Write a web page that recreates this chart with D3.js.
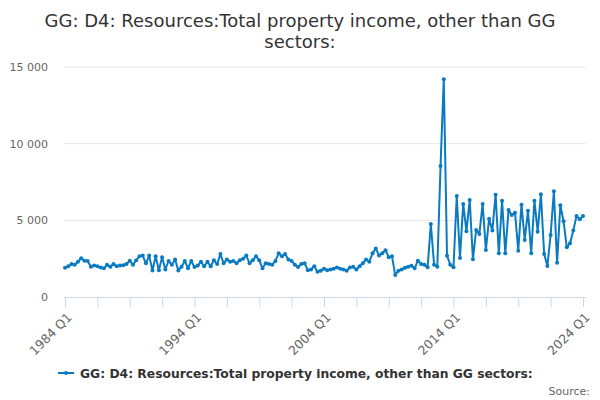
<!DOCTYPE html>
<html>
<head>
<meta charset="utf-8">
<script src="https://cdn.jsdelivr.net/npm/d3@7"></script>
<style>
  body { margin: 0; background: #fff; }
  svg { font-family: "DejaVu Sans", sans-serif; }
</style>
</head>
<body>
<div id="container"></div>
<script>
// quarterly values, 1984 Q1 .. 2024 Q1
const values = [
  1900, 2000, 2150, 2100, 2300, 2520, 2370, 2350, 1980, 2050,
  2000, 1930, 1870, 2100, 1980, 2150, 2000, 2050, 2070, 2150,
  2370, 2100, 2400, 2650, 2700, 2200, 2700, 1730, 2650, 1750,
  2600, 1800, 2350, 2100, 2450, 1730, 1980, 2350, 1870, 2350,
  1950, 2050, 2300, 2000, 2300, 2000, 2400, 2150, 2800, 2200,
  2450, 2300, 2350, 2200, 2400, 2500, 2700, 2200, 2400, 2650,
  2400, 1870, 2200, 2150, 2100, 2350, 2850, 2650, 2800, 2450,
  2350, 2100, 1950, 2150, 2200, 1750, 1800, 2000, 1650, 1720,
  1850, 1750, 1800, 1850, 1930, 1850, 1800, 1720, 1930, 1980,
  1800, 2000, 2200, 2450, 2300, 2850, 3170, 2700, 2850, 3050,
  2600, 2650, 1430, 1720, 1800, 1900, 1980, 2040, 1870, 2370,
  2150, 2110, 1940, 4760, 2110, 1980, 8550, 14200, 2690, 2110,
  1940, 6590, 2540, 6070, 4280, 6330, 2460, 4370, 4110, 6070,
  3070, 5110, 4330, 6670, 2850, 6280, 2850, 5680, 5350, 5500,
  3020, 6020, 3720, 5630, 2850, 6280, 4260, 6700, 2800, 2020,
  4040, 6890, 2240, 5980, 4940, 3240, 3500, 4330, 5280, 5070,
  5280
];
const startYear = 1984;
const quarters = values.map((v, i) => `${startYear + Math.floor(i / 4)} Q${i % 4 + 1}`);
const yTicks = [0, 5000, 10000, 15000];
const titleLines = ["GG: D4: Resources:Total property income, other than GG", "sectors:"];
const seriesName = "GG: D4: Resources:Total property income, other than GG sectors:";

const width = 600;
const height = 400;
const plotLeft = 65;
const plotRight = 583;
const plotTop = 67;
const plotBottom = 297;
const lineColor = "#0a7bc1";

const svg = d3.select("#container")
    .append("svg")
    .attr("width", width)
    .attr("height", height);

const xScale = d3.scaleLinear()
    .domain([0, values.length - 1])
    .range([plotLeft, plotRight]);

const yScale = d3.scaleLinear()
    .domain([0, 15000])
    .range([plotBottom, plotTop]);

//title
svg.append("text")
    .attr("x", width / 2)
    .attr("y", 27)
    .attr("text-anchor", "middle")
    .attr("fill", "#333")
    .style("font-size", "18px")
    .selectAll("tspan")
    .data(titleLines)
    .join("tspan")
    .attr("x", width / 2)
    .attr("dy", (d, i) => i === 0 ? 0 : 21)
    .text(d => d);

//grid lines
svg.append("g")
    .selectAll("line")
    .data(yTicks.slice(1))
    .join("line")
    .attr("x1", plotLeft - 1)
    .attr("x2", plotRight + 3)
    .attr("y1", d => yScale(d))
    .attr("y2", d => yScale(d))
    .attr("stroke", "#e6e6e6");

//left axis labels only
const yAxis = svg.append("g")
    .attr("transform", `translate(${plotLeft - 14},0)`)
    .call(d3.axisLeft(yScale)
        .tickValues(yTicks)
        .tickSize(0)
        .tickFormat(d => d3.format(",")(d).replace(",", " ")));
yAxis.select(".domain").remove();
yAxis.selectAll("text")
    .attr("fill", "#666")
    .style("font-size", "11px")
    .style("font-family", "DejaVu Sans, sans-serif");

//bottom axis
const xAxis = svg.append("g")
    .attr("transform", `translate(0,${plotBottom})`)
    .call(d3.axisBottom(xScale)
        .tickValues(d3.range(0, values.length, 10))
        .tickSize(10)
        .tickSizeOuter(0)
        .tickFormat(i => i % 40 === 0 ? quarters[i] : ""));
xAxis.select(".domain")
    .attr("stroke", "#ccd6eb")
    .attr("d", `M${plotLeft - 1},0.5H${plotRight + 3}`);
xAxis.selectAll(".tick line").attr("stroke", "#ccd6eb");
xAxis.selectAll("text")
    .attr("fill", "#666")
    .style("font-size", "12.5px")
    .style("font-family", "DejaVu Sans, sans-serif")
    .attr("text-anchor", "end")
    .attr("y", 0)
    .attr("dy", "0.35em")
    .attr("transform", "translate(4,18) rotate(-45)");

//series line
const line = d3.line()
    .x((d, i) => xScale(i))
    .y(d => yScale(d));

svg.append("path")
    .datum(values)
    .attr("d", line)
    .attr("fill", "none")
    .attr("stroke", lineColor)
    .attr("stroke-width", 2)
    .attr("stroke-linejoin", "round");

svg.append("g")
    .selectAll("circle")
    .data(values)
    .join("circle")
    .attr("cx", (d, i) => xScale(i))
    .attr("cy", d => yScale(d))
    .attr("r", 2)
    .attr("fill", lineColor);

//legend
const legend = svg.append("g").attr("transform", "translate(58,373)");
legend.append("line")
    .attr("x1", 0).attr("x2", 16)
    .attr("y1", 0).attr("y2", 0)
    .attr("stroke", lineColor)
    .attr("stroke-width", 2);
legend.append("circle")
    .attr("cx", 8).attr("cy", 0).attr("r", 2)
    .attr("fill", lineColor);
legend.append("text")
    .attr("x", 22)
    .attr("y", 5)
    .attr("fill", "#333")
    .style("font-size", "12.3px")
    .style("font-weight", "bold")
    .text(seriesName);

//credits
svg.append("text")
    .attr("x", 590)
    .attr("y", 395)
    .attr("text-anchor", "end")
    .attr("fill", "#666")
    .style("font-size", "11px")
    .text("Source:");
</script>
</body>
</html>
